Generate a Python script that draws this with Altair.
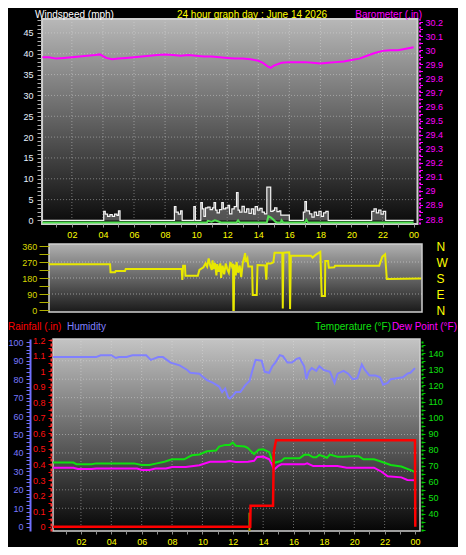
import altair as alt
import pandas as pd

TITLE = "24 hour graph day : June 14 2026"

# ---------------- data (hour of day, value) ----------------
GUST_H = [0.1, 4.05, 4.15, 4.3, 4.45, 4.6, 4.75, 4.9, 5.0, 5.1,
          8.6, 8.7, 8.85, 9.0, 9.1, 9.85, 9.95,
          10.3, 10.4, 10.5, 10.6, 10.75, 10.9, 11.05, 11.15, 11.25, 11.35, 11.5, 11.65, 11.75, 11.9,
          12.05, 12.15, 12.3, 12.45, 12.6, 12.7, 12.8, 12.95, 13.1, 13.25, 13.4, 13.55, 13.7, 13.8, 13.95,
          14.1, 14.25, 14.4, 14.55, 14.8, 14.95, 15.05, 15.2, 15.35, 15.45, 16.0,
          16.9, 17.0, 17.1, 17.3, 17.45, 17.6, 17.75, 17.9, 18.05, 18.2, 18.35, 18.5,
          21.3, 21.45, 21.6, 21.75, 21.9, 22.05, 22.2, 24.0]
GUST_V = [0, 2.2, 1.5, 1.0, 1.4, 1.0, 1.5, 1.2, 2.3, 0,
          3.3, 2.0, 1.5, 2.3, 0, 3.3, 0,
          4.3, 2.8, 1.0, 3.0, 3.2, 2.6, 3.0, 4.3, 2.5, 1.8, 2.6, 4.3, 2.8, 3.0,
          3.6, 1.6, 2.8, 3.3, 6.7, 2.5, 2.0, 3.4, 2.0, 2.8, 1.7, 2.8, 1.5, 3.3, 2.5,
          2.9, 2.0, 1.6, 8.0, 2.2, 2.4, 3.0, 2.1, 2.3, 1.3, 0,
          2.0, 4.5, 2.3, 1.6, 0.8, 2.0, 1.2, 2.2, 1.0, 1.8, 2.2, 0,
          2.2, 2.8, 1.8, 2.5, 1.5, 2.2, 0, 0]

AVG_WIND = [(0.1, 0), (10.7, 0), (10.75, 0.4), (11.0, 0.2), (11.2, 0.5), (11.4, 0.3), (11.6, 0),
            (12.6, 0), (12.7, 0.5), (12.8, 0), (14.55, 0), (14.65, 1.5), (14.8, 1.2), (15.0, 0.6),
            (15.1, 0.2), (15.2, 0), (15.45, 0), (15.5, 0.5), (15.6, 0), (17.0, 0), (17.1, 0.6),
            (17.2, 0), (24.0, 0)]

BAROMETER = [(0.1, 29.95), (0.5, 29.95), (1, 29.94), (1.5, 29.945), (2, 29.95), (2.5, 29.955),
             (3, 29.96), (3.5, 29.965), (3.8, 29.97), (4.2, 29.945), (4.6, 29.935), (5, 29.94),
             (5.5, 29.945), (6, 29.95), (6.5, 29.955), (7, 29.96), (7.5, 29.965), (8, 29.97),
             (8.5, 29.965), (9, 29.96), (9.5, 29.965), (10, 29.96), (10.5, 29.955), (11, 29.955),
             (11.5, 29.95), (12, 29.945), (12.5, 29.94), (13, 29.94), (13.5, 29.935), (14, 29.925),
             (14.3, 29.91), (14.6, 29.885), (14.8, 29.875), (15, 29.89), (15.5, 29.91), (16, 29.915),
             (16.5, 29.915), (17, 29.915), (17.5, 29.91), (18, 29.905), (18.5, 29.91), (19, 29.915),
             (19.5, 29.92), (20, 29.93), (20.5, 29.94), (21, 29.96), (21.5, 29.98), (22, 29.995),
             (22.5, 30.0), (23, 30.0), (23.5, 30.01), (24, 30.02)]

DIRECTION = [(0.0, 258), (3.94, 258), (3.97, 212), (4.26, 212), (4.3, 219), (4.9, 219), (4.95, 231),
             (8.56, 231), (8.6, 169), (8.65, 249), (8.77, 249), (8.8, 193), (9.6, 193), (9.7, 225),
             (9.96, 240), (10.1, 262), (10.2, 245), (10.3, 290), (10.4, 250), (10.5, 225), (10.55, 280),
             (10.6, 230), (10.7, 265), (10.8, 195), (10.85, 258), (10.95, 215), (11.05, 262), (11.1, 180),
             (11.2, 250), (11.3, 200), (11.4, 262), (11.5, 230), (11.6, 210), (11.7, 270), (11.8, 245),
             (11.87, 260), (11.89, 0), (11.92, 0), (11.95, 255), (12.05, 195), (12.1, 270), (12.2, 210),
             (12.3, 250), (12.4, 185), (12.5, 265), (12.6, 300), (12.65, 320), (12.7, 270), (12.8, 290),
             (12.86, 244), (13.1, 244), (13.14, 84), (13.4, 84), (13.45, 253), (13.95, 250), (14.02, 170),
             (14.06, 262), (14.3, 262), (14.47, 268), (14.55, 322), (15.05, 322), (15.08, 8), (15.12, 322),
             (15.5, 325), (15.55, 5), (15.6, 305), (16.9, 305), (17.0, 295), (17.2, 310), (17.5, 327),
             (17.59, 79), (17.8, 79), (17.82, 275), (18.0, 275), (18.05, 238), (18.4, 240), (18.45, 249),
             (21.3, 249), (21.5, 300), (21.68, 313), (21.79, 174), (24.0, 177)]

HUMIDITY = [(0.17, 92), (1, 92), (2, 92), (3, 92), (3.3, 93), (4, 93), (4.3, 91.5), (4.5, 92), (5, 92),
            (5.4, 93), (6.3, 93), (6.6, 90.5), (7.1, 92), (7.4, 92), (7.9, 89), (8.5, 87.5), (9.0, 85),
            (9.2, 83.5), (9.8, 83), (10.0, 81.5), (10.3, 79.5), (10.7, 78), (11.1, 76), (11.3, 73),
            (11.5, 75), (11.7, 70), (11.8, 69.5), (12.0, 71), (12.2, 73), (12.5, 73), (12.8, 76.5),
            (13.1, 79), (13.3, 85), (13.5, 90.5), (13.9, 90), (14.1, 84), (14.4, 83.5), (14.6, 87),
            (14.8, 89), (15.1, 93), (15.3, 92.5), (15.6, 89), (15.9, 89), (16.2, 91), (16.4, 91.5),
            (16.7, 87), (16.85, 80), (17.0, 84), (17.2, 86), (17.5, 84.5), (17.7, 87), (18.0, 85),
            (18.4, 84), (18.7, 78), (18.9, 83), (19.3, 84.5), (19.6, 83), (19.9, 80), (20.2, 80.5),
            (20.5, 88), (20.7, 85), (21.0, 82), (21.4, 82), (21.7, 81), (21.9, 77), (22.2, 78),
            (22.4, 80), (22.8, 80.5), (23.2, 81), (23.5, 83), (23.7, 83.5), (24.0, 86)]

TEMPERATURE = [(0.17, 72), (1.5, 72), (1.7, 71), (2.7, 71), (3, 71.5), (5.5, 71.5), (6.0, 70.5),
               (6.5, 70.5), (7.0, 71.5), (7.5, 72.5), (8.0, 74), (8.8, 74), (9.3, 76.5), (9.8, 77),
               (10.3, 79), (10.9, 79.5), (11.1, 82), (11.5, 83), (11.8, 83), (12.0, 84.5), (12.2, 82.5),
               (12.8, 82), (13.0, 81), (13.2, 79), (13.4, 77.3), (13.7, 80), (14.0, 80.3), (14.4, 78.5),
               (14.6, 73), (14.8, 72), (15.0, 72.5), (15.2, 73), (15.4, 74.7), (16.4, 74.7), (16.7, 76.8),
               (17.0, 76.8), (17.3, 75.3), (17.5, 75.3), (17.7, 76.8), (18.2, 75), (18.4, 77), (18.9, 75.7),
               (19.3, 75.7), (19.8, 76), (20.3, 76), (20.6, 74), (21.3, 74), (21.8, 72.5), (22.4, 70.5),
               (23.1, 69.5), (23.8, 67), (24.0, 66)]

DEW_POINT = [(0.17, 68.8), (1.5, 68.8), (1.8, 68), (2.7, 68), (3.0, 68.3), (5.7, 68.3), (6.0, 67.4),
             (6.5, 67.4), (6.9, 68.3), (7.6, 68.3), (8.0, 69.3), (8.9, 69.3), (9.8, 70.4), (10.5, 72.5),
             (11.5, 72.5), (11.8, 73), (12.2, 72.3), (13.0, 72.5), (13.4, 73.1), (13.6, 75.5), (14.0, 75.7),
             (14.4, 74), (14.6, 70.5), (14.7, 67.4), (15.0, 70), (15.2, 70.9), (16.7, 70.9), (16.9, 71.5),
             (17.3, 69.8), (18.9, 69.8), (19.5, 68.8), (21.3, 68.8), (21.8, 66.3), (22.2, 63.5),
             (23.1, 62.8), (23.5, 61.2), (24.0, 61)]

RAINFALL = [(0.17, 0), (13.15, 0), (13.17, 0.135), (14.65, 0.135), (14.7, 0.48), (14.85, 0.555),
            (24.0, 0.555), (24.02, 0)]
RAIN_RATE = [(13.1, 0.09)]

HOUR_GRID = [2, 4, 6, 8, 10, 12, 14, 16, 18, 20, 22]
WIND_GRID = [5, 10, 15, 20, 25, 30, 35, 40, 45]
DIR_GRID = [90, 180, 270]
HUM_GRID = [10, 20, 30, 40, 50, 60, 70, 80, 90]

HOUR_TICKS = list(range(1, 25))
WIND_TICKS = list(range(0, 49))
BARO_TICKS = [round(28.8 + 0.05 * i, 2) for i in range(29)]
DIR_TICKS = [0, 45, 90, 135, 180, 225, 270, 315, 360]
HUM_TICKS = list(range(0, 101, 2))
RAIN_TICKS = [round(0.05 * i, 2) for i in range(25)]
TEMP_TICKS = list(range(30, 150, 5))

# ---------------- scales (panel placement) ----------------
def S(domain, rng):
    return alt.Scale(domain=domain, range=rng, nice=False, zero=False)

TOP_XD, WIND_D, BARO_D = [0.08, 24.25], [-0.85, 48.34], [28.765, 30.2214]
MID_XD, DIR_D = [0.0, 24.06], [-11.25, 371.25]
BOT_XD, HUM_D, RAIN_D, TEMP_D = [0.16, 24.33], [-2.33, 101.8], [-0.028, 1.207], [29.42, 148.9]

X_TOP = S(TOP_XD, [34.05, 409.5])
Y_WIND = S(WIND_D, [216, 11])
Y_BARO = S(BARO_D, [216, 11])
X_MID = S(MID_XD, [41, 414])
Y_DIR = S(DIR_D, [304, 236])
X_BOT = S(BOT_XD, [45, 412])
Y_HUM = S(HUM_D, [523, 331])
Y_RAIN = S(RAIN_D, [523, 331])
Y_TEMP = S(TEMP_D, [523, 331])

FONT = "Liberation Sans"
HOUR_LABEL = "datum.value % 2 == 0 ? ((datum.value % 24) < 10 ? '0' : '') + (datum.value % 24) : ''"
TENTHS_LABEL = "abs(datum.value * 10 - round(datum.value * 10)) < 0.01 ? format(datum.value, '.1~f') : ''"


def ax(orient, offset, values, expr, color, tick_color, tick_size, pad, size=9, **kw):
    return alt.Axis(orient=orient, offset=offset, values=values, labelExpr=expr,
                    labelColor=color, tickColor=tick_color, tickSize=tick_size,
                    labelPadding=pad, grid=False, title=None, labelOverlap=False,
                    labelFlush=False, labelFont=FONT, labelFontSize=size, zindex=1, **kw)


def df(points, name):
    return pd.DataFrame(points, columns=["h", name])


dummy = pd.DataFrame({"k": [0]})


def background(xs, xd, ys, yd, c0, c1, sw, xaxis=None, yaxis=None):
    grad = alt.Gradient(gradient="linear", x1=0, x2=0, y1=0, y2=1,
                        stops=[alt.GradientStop(offset=0, color=c0),
                               alt.GradientStop(offset=1, color=c1)])
    return alt.Chart(dummy).mark_rect(fill=grad, stroke="#cfcfcf", strokeWidth=sw).encode(
        x=alt.XDatum(xd[0], type="quantitative", scale=xs, axis=xaxis),
        x2=alt.X2Datum(xd[1]),
        y=alt.YDatum(yd[0], type="quantitative", scale=ys, axis=yaxis),
        y2=alt.Y2Datum(yd[1]),
    )


def vgrid(hours, xs, ys, yd):
    return alt.Chart(pd.DataFrame({"h": hours})).mark_rule(
        color="#e0e0e0", opacity=0.45, strokeDash=[1, 2], strokeWidth=1).encode(
        x=alt.X("h:Q", scale=xs, axis=None),
        y=alt.YDatum(yd[0], type="quantitative", scale=ys, axis=None),
        y2=alt.Y2Datum(yd[1]))


def hgrid(vals, xs, xd, ys, yaxis=None, opacity=0.45):
    return alt.Chart(pd.DataFrame({"v": vals})).mark_rule(
        color="#e0e0e0", opacity=opacity, strokeDash=[1, 2], strokeWidth=1).encode(
        y=alt.Y("v:Q", scale=ys, axis=yaxis),
        x=alt.XDatum(xd[0], type="quantitative", scale=xs, axis=None),
        x2=alt.X2Datum(xd[1]))


def series(data, xs, ys, color, width=2, yaxis=None, **kw):
    return alt.Chart(data).mark_line(color=color, strokeWidth=width, **kw).encode(
        x=alt.X("h:Q", scale=xs, axis=None),
        y=alt.Y("v:Q", scale=ys, axis=yaxis))


def header(text, x, y, color, align):
    return alt.Chart(dummy).mark_text(text=text, align=align, baseline="alphabetic",
                                      font=FONT, fontSize=10, color=color).encode(
        x=alt.value(x), y=alt.value(y))


# ---------------- axes ----------------
wind_axis = ax("left", -33, WIND_TICKS, "datum.value % 5 == 0 ? datum.label : ''",
               "#e6f0ff", "#b0b0b0", 4, 4, domain=False)
top_x_axis = ax("bottom", -323, HOUR_TICKS, HOUR_LABEL, "#ffff00", "#909090", 3, 3, domain=False)
baro_axis = ax("right", -38.5, BARO_TICKS, TENTHS_LABEL, "#ff00ff", "#ff00ff", 3, 2.5,
               domainColor="#ff00ff", domainWidth=2, domainDash=[2, 2])
dir_axis = ax("left", -41, DIR_TICKS, "datum.value % 90 == 0 ? datum.label : ''",
              "#d8d800", "#b0b000", 10, 2.3, domain=False)
compass_axis = alt.Axis(orient="right", offset=-22, values=[0, 90, 180, 270, 360],
                        labelExpr="datum.value == 90 ? 'E' : datum.value == 180 ? 'S' : datum.value == 270 ? 'W' : 'N'",
                        labelColor="#ffff00", labelFont=FONT, labelFontSize=12, labelPadding=0,
                        ticks=False, tickSize=0, domain=False, grid=False, title=None,
                        labelOverlap=False, zindex=1)
hum_axis = ax("left", -22, HUM_TICKS, "datum.value % 10 == 0 ? datum.label : ''",
              "#7878ff", "#7070ff", 4, 3, domainColor="#7070ff", domainWidth=2)
rain_axis = ax("left", -43, RAIN_TICKS, TENTHS_LABEL, "#ff1010", "#ff0000", 3, 3,
               domainColor="#ff3030", domainWidth=2, domainDash=[3, 2])
temp_axis = ax("right", -36, TEMP_TICKS,
               "datum.value % 10 == 0 && datum.value >= 40 && datum.value <= 140 ? datum.label : ''",
               "#10e010", "#00c000", 3, 3, domainColor="#00d000", domainWidth=2, domainDash=[2, 2])
bot_x_axis = ax("bottom", -16, HOUR_TICKS, HOUR_LABEL, "#ffff00", "#909090", 3, 3, domain=False)

# ---------------- layers ----------------
gust_df = pd.DataFrame({"h": GUST_H, "v": GUST_V})

layers = [
    # top panel: windspeed + barometer
    background(X_TOP, TOP_XD, Y_WIND, WIND_D, "#b8b8b8", "#0a0a0a", 2, top_x_axis, wind_axis),
    vgrid(HOUR_GRID, X_TOP, Y_WIND, WIND_D),
    hgrid(WIND_GRID, X_TOP, TOP_XD, Y_WIND),
    alt.Chart(gust_df).mark_area(interpolate="step-after", color="#8c8c8c", opacity=0.55).encode(
        x=alt.X("h:Q", scale=X_TOP, axis=None),
        y=alt.Y("v:Q", scale=Y_WIND, axis=None),
        y2=alt.Y2Datum(0)),
    series(gust_df, X_TOP, Y_WIND, "#f4f4f4", 1.2, interpolate="step-after"),
    series(df(AVG_WIND, "v"), X_TOP, Y_WIND, "#50e050", 2, yOffset=2),
    series(df(BAROMETER, "v"), X_TOP, Y_BARO, "#ff00ff", 2, yaxis=baro_axis),

    # middle panel: wind direction
    background(X_MID, MID_XD, Y_DIR, DIR_D, "#b0b0b0", "#1a1a1a", 1.5, None, dir_axis),
    hgrid(DIR_GRID, X_MID, MID_XD, Y_DIR, compass_axis, 0.55),
    series(df(DIRECTION, "v"), X_MID, Y_DIR, "#e8e800", 2),

    # bottom panel: rain, humidity, temperature, dew point
    background(X_BOT, BOT_XD, Y_HUM, HUM_D, "#c4c4c4", "#060606", 1.5, bot_x_axis, hum_axis),
    vgrid(HOUR_GRID, X_BOT, Y_HUM, HUM_D),
    hgrid(HUM_GRID, X_BOT, BOT_XD, Y_HUM),
    series(df(HUMIDITY, "v"), X_BOT, Y_HUM, "#8080ff", 2),
    series(df(DEW_POINT, "v"), X_BOT, Y_TEMP, "#ff00ff", 2),
    series(df(TEMPERATURE, "v"), X_BOT, Y_TEMP, "#10e010", 2, yaxis=temp_axis),
    alt.Chart(df(RAIN_RATE, "v")).mark_rule(color="#b0a000", strokeWidth=2).encode(
        x=alt.X("h:Q", scale=X_BOT, axis=None),
        y=alt.Y("v:Q", scale=Y_RAIN, axis=None),
        y2=alt.Y2Datum(RAIN_D[0])),
    series(df(RAINFALL, "v"), X_BOT, Y_RAIN, "#ff0000", 2.5, yaxis=rain_axis),

    # headers
    header("Windspeed (mph)", 27, 9.5, "#ffffff", "left"),
    header(TITLE, 244, 9.5, "#ffff00", "center"),
    header("Barometer (.in)", 414, 9.5, "#ff00ff", "right"),
    header("Rainfall (.in)", 0, 322, "#ff0000", "left"),
    header("Humidity", 59, 322, "#8080ff", "left"),
    header("Dew Point (°F)", 449, 322, "#ff00ff", "right"),
    header("Temperature (°F)", 383, 322, "#10e010", "right"),
]

chart = alt.layer(*layers).resolve_scale(
    x="independent", y="independent"
).properties(
    width=450, height=539, padding=0,
    autosize=alt.AutoSizeParams(type="none"),
).configure(background="black").configure_view(strokeWidth=0)

chart.save("out.html", embed_options={"renderer": "svg", "actions": False})
